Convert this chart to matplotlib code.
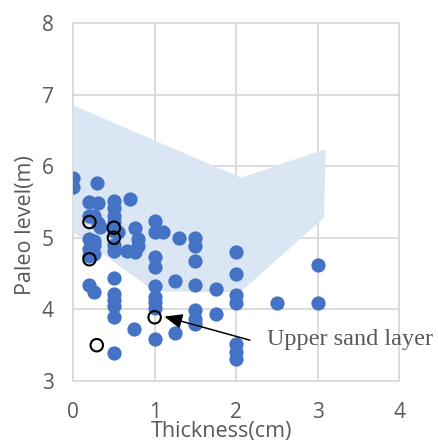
import matplotlib
matplotlib.use("Agg")
import matplotlib.pyplot as plt

# filled samples
thick = [0, 0, 0.29, 0.2, 0.31, 0.5, 0.5, 0.7,
         0.25, 0.31, 0.2, 0.33, 0.5, 0.5, 0.5, 0.55, 0.5, 0.5,
         0.2, 0.2, 0.25, 0.25, 0.2, 0.25,
         0.66, 0.76, 0.76, 0.8, 0.8,
         1.0, 1.0, 1.1, 1.3, 1.5, 1.5, 1.5,
         1.0, 1.0, 1.25, 0.5, 0.2, 0.25,
         0.5, 0.5, 0.5, 0.5, 1.0, 1.0, 1.0, 1.0,
         1.5, 1.75, 2.0, 2.0, 2.0, 2.0, 2.5, 3.0, 3.0,
         0.75, 1.0, 1.25, 1.5, 1.5, 1.5, 1.75,
         2.0, 2.0, 2.0, 0.5]
level = [5.83, 5.71, 5.77, 5.5, 5.48, 5.52, 5.41, 5.54,
         5.31, 5.2, 5.3, 5.15, 5.3, 5.22, 5.1, 5.08, 4.9, 4.82,
         4.99, 4.85, 4.95, 4.78, 4.75, 4.9,
         4.82, 4.80, 5.13, 4.99, 4.88,
         5.24, 5.08, 5.08, 5.0, 5.0, 4.88, 4.67,
         4.73, 4.59, 4.40, 4.44, 4.34, 4.24,
         4.21, 4.13, 4.05, 3.89, 4.33, 4.18, 4.1, 4.02,
         4.34, 4.29, 4.8, 4.5, 4.2, 4.09, 4.09, 4.62, 4.09,
         3.72, 3.59, 3.67, 3.99, 3.87, 3.79, 3.93,
         3.52, 3.4, 3.31, 3.39]

# open circles
open_thick = [0.2, 0.5, 0.5, 0.2, 1.0, 0.29]
open_level = [5.22, 5.14, 5.0, 4.7, 3.89, 3.5]

# shaded band outline
band_x = [0, 2.06, 3.1, 3.08, 2.05, 1.0, 0]
band_y = [6.85, 5.84, 6.24, 5.28, 4.24, 4.25, 5.08]

xticks = [0, 1, 2, 3, 4]
yticks = [3, 4, 5, 6, 7, 8]

grey = "#595959"
fig = plt.figure(figsize=(4.38, 4.42), dpi=100)
ax = fig.add_axes([0.167, 0.138, 0.744, 0.810])

ax.fill(band_x, band_y, color="#dae6f3", lw=0, zorder=1)
ax.scatter(thick, level, s=105, color="#4472c4", lw=0, zorder=3)
ax.scatter(open_thick, open_level, s=80, facecolor="none",
           edgecolor="black", lw=1.5, zorder=4)

ax.annotate("", xy=(1.12, 3.9), xytext=(2.17, 3.57), annotation_clip=False,
            arrowprops=dict(arrowstyle="-|>,head_length=0.6,head_width=0.25",
                            color="black", lw=1.1, mutation_scale=18,
                            shrinkA=0, shrinkB=0))
ax.text(2.38, 3.5, "Upper sand layer", fontsize=17.5, family="Liberation Serif",
        color=grey, va="baseline", clip_on=False)

ax.set_xlim(0, 4)
ax.set_ylim(3, 8)
ax.set_xticks(xticks)
ax.set_yticks(yticks)
ax.grid(True, color="#d9d9d9", lw=1.3, zorder=0)
ax.set_axisbelow(True)
for sp in ax.spines.values():
    sp.set_visible(False)
for gl in ax.get_xgridlines() + ax.get_ygridlines():
    gl.set_clip_on(False)
ax.tick_params(length=0, labelsize=15, labelcolor=grey)
ax.tick_params(axis="x", pad=15)
ax.tick_params(axis="y", pad=14)
for lbl in ax.get_xticklabels() + ax.get_yticklabels():
    lbl.set_family("Open Sans")

ax.set_xlabel("Thickness(cm)", fontsize=15.5, color=grey, family="Open Sans", va="center")
ax.set_ylabel("Paleo level(m)", fontsize=15.5, color=grey, family="Open Sans", va="center")
# Excel-style label placement (slightly off-centre)
ax.xaxis.set_label_coords(0.454, -0.142)
ax.yaxis.set_label_coords(-0.145, 0.436)

fig.savefig("out.png", dpi=100)
